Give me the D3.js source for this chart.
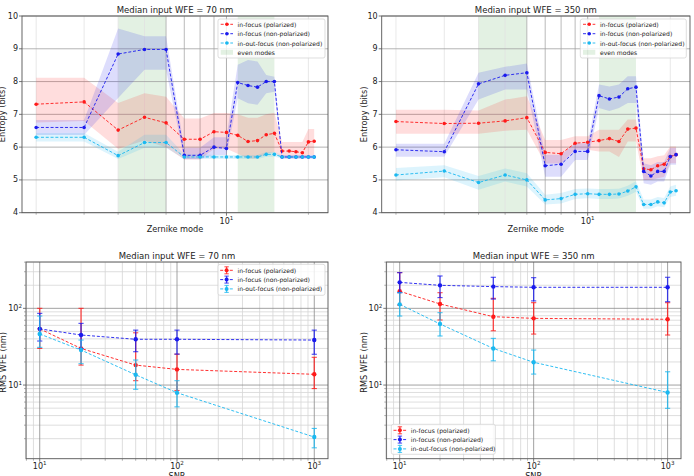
<!DOCTYPE html>
<html><head><meta charset="utf-8">
<script src="https://cdn.jsdelivr.net/npm/d3@7"></script>
<style>body{margin:0;background:#fff;} svg{display:block;font-family:"DejaVu Sans",sans-serif;}</style>
</head><body><svg id="c" width="694" height="476"></svg>
<script>
// ---------- data: entropy vs Zernike mode ----------
const modes = [2,3,4,5,6,7,8,9,10,11,12,13,14,15,16,17,18,19,20,21];
const evenSpans = [[4,6],[11,15]];
const seriesNames = ["in-focus (polarized)","in-focus (non-polarized)","in-out-focus (non-polarized)"];
const evenLabel = "even modes";

// 70 nm
const tlRed   = [7.31,7.38,6.52,6.91,6.74,6.24,6.24,6.47,6.45,6.36,6.17,6.20,6.38,6.42,5.88,5.88,5.86,5.83,6.16,6.18];
const tlRedLo = [6.75,6.80,5.95,6.20,6.00,5.62,5.62,5.95,5.95,5.80,5.65,5.65,5.80,5.85,5.66,5.66,5.66,5.66,5.75,5.75];
const tlRedHi = [8.12,8.12,7.35,7.64,7.54,6.87,6.87,7.04,7.04,7.00,6.90,6.90,7.00,7.05,6.16,6.16,6.16,6.16,6.55,6.55];
const tlBlue   = [6.60,6.60,8.84,8.98,8.98,5.75,5.75,6.00,5.96,7.97,7.88,7.83,8.00,8.00,5.70,5.70,5.70,5.70,5.70,5.70];
const tlBlueLo = [6.37,6.37,7.50,8.36,8.36,5.63,5.63,5.76,5.76,7.49,7.34,7.29,7.64,7.69,5.65,5.65,5.65,5.65,5.65,5.65];
const tlBlueHi = [6.83,6.83,9.62,9.38,9.38,5.98,5.98,6.30,6.30,8.51,8.66,8.61,8.20,8.15,5.75,5.75,5.75,5.75,5.75,5.75];
const tlCyan   = [6.30,6.30,5.74,6.14,6.14,5.70,5.70,5.70,5.70,5.70,5.70,5.70,5.78,5.78,5.70,5.70,5.70,5.70,5.70,5.70];
const tlCyanLo = [6.17,6.17,5.64,5.98,5.98,5.64,5.64,5.64,5.64,5.64,5.64,5.64,5.71,5.71,5.65,5.65,5.65,5.65,5.65,5.65];
const tlCyanHi = [6.43,6.43,5.86,6.38,6.38,5.78,5.78,5.76,5.76,5.76,5.76,5.76,5.85,5.85,5.75,5.75,5.75,5.75,5.75,5.75];

// 350 nm
const trRed   = [6.78,6.72,6.73,6.80,6.90,5.84,5.80,6.12,6.15,6.20,6.26,6.17,6.55,6.58,5.34,5.31,5.43,5.48,5.71,5.77];
const trRedLo = [6.41,6.41,6.41,6.50,6.53,5.50,5.50,5.92,5.92,5.87,5.87,5.70,6.17,6.17,5.00,5.00,5.05,5.10,5.51,5.51];
const trRedHi = [7.14,7.14,7.12,7.45,7.55,6.22,6.22,6.33,6.33,6.53,6.53,6.53,6.84,6.84,5.66,5.66,5.72,5.75,6.02,6.02];
const trBlue   = [5.92,5.86,7.93,8.19,8.27,5.43,5.48,5.87,5.87,7.57,7.47,7.53,7.78,7.83,5.26,5.12,5.26,5.26,5.71,5.77];
const trBlueLo = [5.71,5.71,7.45,7.76,7.76,5.10,5.10,5.61,5.61,7.19,7.10,7.19,7.35,7.35,4.90,4.85,4.95,4.95,5.46,5.46];
const trBlueHi = [6.10,6.10,8.27,8.45,8.55,5.77,5.77,6.12,6.12,7.91,7.85,7.91,8.16,8.16,5.51,5.45,5.55,5.55,5.97,5.97];
const trCyan   = [5.15,5.27,4.92,5.15,5.00,4.39,4.43,4.56,4.58,4.56,4.56,4.57,4.66,4.79,4.25,4.25,4.33,4.30,4.63,4.67];
const trCyanLo = [4.98,5.08,4.70,4.95,4.80,4.25,4.28,4.42,4.44,4.42,4.42,4.43,4.52,4.64,4.12,4.12,4.20,4.17,4.48,4.52];
const trCyanHi = [5.36,5.45,5.12,5.35,5.20,4.55,4.60,4.72,4.74,4.72,4.72,4.73,4.82,4.96,4.40,4.40,4.48,4.45,4.80,4.85];

// ---------- data: RMS WFE vs SNR ----------
const snr = [10,20,50,100,1000];
const blRed    = [54,30,18.2,16,13.8];
const blRedLo  = [30,18.2,11.4,8.5,9];
const blRedHi  = [100,100,48,25.3,23];
const blBlue   = [54,44.9,39.5,39.5,38.6];
const blBlueLo = [37.5,30,27.2,25.3,25.2];
const blBlueHi = [86,63.7,52,52,52];
const blCyan   = [46.3,28.6,13.6,7.94,2.1];
const blCyanLo = [31,19,8.8,5.2,1.52];
const blCyanHi = [79.4,38.6,21.2,11.4,2.72];

const brRed    = [167,114,77.8,74,72];
const brRedLo  = [110,70.5,51,46.2,44.9];
const brRedHi  = [292,160,135,118.5,118.5];
const brBlue   = [218,199.5,192,188,188];
const brBlueLo = [160,138,132,125,122];
const brBlueHi = [292,264,254,251,254];
const brCyan   = [112.7,62.5,30,19.8,8.0];
const brCyanLo = [79.4,43.6,20.7,13.9,4.97];
const brCyanHi = [160,87.8,40.6,28.6,14.9];

const entropyTicks = [4,5,6,7,8,9,10];
const colors = ["#ff1a1a","#1a1aee","#1ab8f0"];

const svg = d3.select("#c");

function supText(sel, base, exp, fs){
  sel.append("tspan").text(base);
  sel.append("tspan").attr("dy", -fs*0.42).attr("font-size", fs*0.7).text(exp);
}

function entropyPanel(p){
  const g = svg.append("g");
  const x = d3.scaleLog().domain([Math.pow(10,0.249), Math.pow(10,1.373)]).range([p.x0,p.x1]);
  const y = d3.scaleLinear().domain([4,10]).range([p.y1,p.y0]);
  evenSpans.forEach(s=>{
    g.append("rect").attr("x",x(s[0])).attr("y",p.y0).attr("width",x(s[1])-x(s[0])).attr("height",p.y1-p.y0)
      .attr("fill","green").attr("fill-opacity",0.11);
  });
  const minor = [2,3,4,5,6,7,8,9,20];
  minor.forEach(v=>{
    const dark = v>=6 && v<=9;
    g.append("line").attr("x1",x(v)).attr("x2",x(v)).attr("y1",p.y0).attr("y2",p.y1)
      .attr("stroke", dark? "#a8a8a8":"#e2e2e2").attr("stroke-width",0.8);
  });
  g.append("line").attr("x1",x(10)).attr("x2",x(10)).attr("y1",p.y0).attr("y2",p.y1).attr("stroke","#9a9a9a").attr("stroke-width",0.8);
  entropyTicks.forEach(v=>{
    g.append("line").attr("x1",p.x0).attr("x2",p.x1).attr("y1",y(v)).attr("y2",y(v)).attr("stroke","#a0a0a0").attr("stroke-width",0.8);
  });
  const sets = [[p.red,p.redLo,p.redHi],[p.blue,p.blueLo,p.blueHi],[p.cyan,p.cyanLo,p.cyanHi]];
  const area = d3.area().x((d,i)=>x(modes[i])).y0(d=>y(d[0])).y1(d=>y(d[1]));
  sets.forEach((s,k)=>{
    const pts = modes.map((m,i)=>[s[1][i], s[2][i]]);
    g.append("path").attr("d",area(pts)).attr("fill",colors[k]).attr("fill-opacity",0.15);
  });
  const line = d3.line().x((d,i)=>x(modes[i])).y(d=>y(d));
  sets.forEach((s,k)=>{
    g.append("path").attr("d",line(s[0])).attr("fill","none").attr("stroke",colors[k]).attr("stroke-width",0.9).attr("stroke-dasharray","3,1.8");
    g.selectAll(null).data(s[0]).enter().append("circle").attr("cx",(d,i)=>x(modes[i])).attr("cy",d=>y(d)).attr("r",1.8).attr("fill",colors[k]);
  });
  g.append("rect").attr("x",p.x0).attr("y",p.y0).attr("width",p.x1-p.x0).attr("height",p.y1-p.y0).attr("fill","none").attr("stroke","#555").attr("stroke-width",0.9);
  entropyTicks.forEach(v=>{
    g.append("line").attr("x1",p.x0-3).attr("x2",p.x0).attr("y1",y(v)).attr("y2",y(v)).attr("stroke","#555").attr("stroke-width",0.8);
    g.append("text").attr("x",p.x0-4).attr("y",y(v)).attr("text-anchor","end").attr("dominant-baseline","central").attr("font-size",8).attr("fill","#222").text(v);
  });
  g.append("line").attr("x1",x(10)).attr("x2",x(10)).attr("y1",p.y1).attr("y2",p.y1+3).attr("stroke","#555").attr("stroke-width",0.8);
  minor.forEach(v=>g.append("line").attr("x1",x(v)).attr("x2",x(v)).attr("y1",p.y1).attr("y2",p.y1+2).attr("stroke","#777").attr("stroke-width",0.6));
  const t = g.append("text").attr("x",x(10)).attr("y",p.y1+11).attr("text-anchor","middle").attr("font-size",8).attr("fill","#222");
  supText(t,"10","1",8);
  g.append("text").attr("x",(p.x0+p.x1)/2).attr("y",p.y0-3).attr("text-anchor","middle").attr("font-size",8.5).attr("fill","#222").text(p.title);
  g.append("text").attr("x",(p.x0+p.x1)/2).attr("y",232).attr("text-anchor","middle").attr("font-size",8.2).attr("fill","#222").text("Zernike mode");
  g.append("text").attr("transform",`translate(${p.ylabX},${(p.y0+p.y1)/2}) rotate(-90)`).attr("text-anchor","middle").attr("dominant-baseline","central").attr("font-size",8.2).attr("fill","#222").text("Entropy (bits)");
  const L = g.append("g");
  L.append("rect").attr("x",p.lx).attr("y",19).attr("width",p.lw).attr("height",39).attr("rx",2).attr("fill","#fff").attr("fill-opacity",0.8).attr("stroke","#d0d0d0").attr("stroke-width",0.7);
  const rows = [24.3,33.7,43,52.3];
  seriesNames.forEach((n,k)=>{
    L.append("line").attr("x1",p.lx+2.7).attr("x2",p.lx+15).attr("y1",rows[k]).attr("y2",rows[k]).attr("stroke",colors[k]).attr("stroke-width",0.9).attr("stroke-dasharray","3,1.8");
    L.append("circle").attr("cx",p.lx+8.9).attr("cy",rows[k]).attr("r",1.8).attr("fill",colors[k]);
    L.append("text").attr("x",p.lx+19.6).attr("y",rows[k]).attr("dominant-baseline","central").attr("font-size",6.1).attr("fill","#222").text(n);
  });
  L.append("rect").attr("x",p.lx+2.7).attr("y",rows[3]-2.5).attr("width",12.3).attr("height",5).attr("fill","green").attr("fill-opacity",0.11);
  L.append("text").attr("x",p.lx+19.6).attr("y",rows[3]).attr("dominant-baseline","central").attr("font-size",6.1).attr("fill","#222").text(evenLabel);
}

function wfePanel(p){
  const g = svg.append("g");
  const x = d3.scaleLog().domain([Math.pow(10,0.9), Math.pow(10,3.1)]).range([p.x0,p.x1]);
  const y = d3.scaleLog().domain([Math.pow(10,0.04), Math.pow(10,2.604)]).range([p.y1,p.y0]);
  const xMinor = [8,9,20,30,40,50,60,70,80,90,200,300,400,500,600,700,800,900];
  const xMajor = [10,100,1000];
  const yMinor = [2,3,4,5,6,7,8,9,20,30,40,50,60,70,80,90,200,300,400];
  const yMajor = [10,100];
  xMinor.forEach(v=>g.append("line").attr("x1",x(v)).attr("x2",x(v)).attr("y1",p.y0).attr("y2",p.y1).attr("stroke","#d6d6d6").attr("stroke-width",0.8));
  yMinor.forEach(v=>g.append("line").attr("x1",p.x0).attr("x2",p.x1).attr("y1",y(v)).attr("y2",y(v)).attr("stroke","#d6d6d6").attr("stroke-width",0.8));
  xMajor.forEach(v=>g.append("line").attr("x1",x(v)).attr("x2",x(v)).attr("y1",p.y0).attr("y2",p.y1).attr("stroke","#8a8a8a").attr("stroke-width",0.8));
  yMajor.forEach(v=>g.append("line").attr("x1",p.x0).attr("x2",p.x1).attr("y1",y(v)).attr("y2",y(v)).attr("stroke","#8a8a8a").attr("stroke-width",0.8));
  const sets = [[p.red,p.redLo,p.redHi],[p.blue,p.blueLo,p.blueHi],[p.cyan,p.cyanLo,p.cyanHi]];
  const line = d3.line().x((d,i)=>x(snr[i])).y(d=>y(d));
  sets.forEach((s,k)=>{
    g.append("path").attr("d",line(s[0])).attr("fill","none").attr("stroke",colors[k]).attr("stroke-width",0.9).attr("stroke-dasharray","3,1.8");
    snr.forEach((v,i)=>{
      const cx = x(v);
      g.append("line").attr("x1",cx).attr("x2",cx).attr("y1",y(s[1][i])).attr("y2",y(s[2][i])).attr("stroke",colors[k]).attr("stroke-width",1.3).attr("stroke-opacity",0.8);
      [s[1][i],s[2][i]].forEach(e=>g.append("line").attr("x1",cx-2.6).attr("x2",cx+2.6).attr("y1",y(e)).attr("y2",y(e)).attr("stroke",colors[k]).attr("stroke-width",1.1).attr("stroke-opacity",0.8));
      g.append("circle").attr("cx",cx).attr("cy",y(s[0][i])).attr("r",2.2).attr("fill",colors[k]);
    });
  });
  g.append("rect").attr("x",p.x0).attr("y",p.y0).attr("width",p.x1-p.x0).attr("height",p.y1-p.y0).attr("fill","none").attr("stroke","#555").attr("stroke-width",0.9);
  xMajor.forEach((v,i)=>{
    g.append("line").attr("x1",x(v)).attr("x2",x(v)).attr("y1",p.y1).attr("y2",p.y1+3).attr("stroke","#555").attr("stroke-width",0.8);
    const t = g.append("text").attr("x",x(v)).attr("y",p.y1+10).attr("text-anchor","middle").attr("font-size",8).attr("fill","#222");
    supText(t,"10",String(i+1),8);
  });
  xMinor.forEach(v=>g.append("line").attr("x1",x(v)).attr("x2",x(v)).attr("y1",p.y1).attr("y2",p.y1+2).attr("stroke","#777").attr("stroke-width",0.6));
  yMajor.forEach((v,i)=>{
    g.append("line").attr("x1",p.x0-3).attr("x2",p.x0).attr("y1",y(v)).attr("y2",y(v)).attr("stroke","#555").attr("stroke-width",0.8);
    const t = g.append("text").attr("x",p.x0-4).attr("y",y(v)+3).attr("text-anchor","end").attr("font-size",8).attr("fill","#222");
    supText(t,"10",String(i+1),8);
  });
  yMinor.forEach(v=>g.append("line").attr("x1",p.x0-2).attr("x2",p.x0).attr("y1",y(v)).attr("y2",y(v)).attr("stroke","#777").attr("stroke-width",0.6));
  g.append("text").attr("x",(p.x0+p.x1)/2).attr("y",p.y0-3).attr("text-anchor","middle").attr("font-size",8.5).attr("fill","#222").text(p.title);
  g.append("text").attr("x",(p.x0+p.x1)/2).attr("y",479).attr("text-anchor","middle").attr("font-size",8.2).attr("fill","#222").text("SNR");
  g.append("text").attr("transform",`translate(${p.ylabX},${(p.y0+p.y1)/2+2}) rotate(-90)`).attr("text-anchor","middle").attr("dominant-baseline","central").attr("font-size",8.2).attr("fill","#222").text("RMS WFE (nm)");
  const L = g.append("g");
  L.append("rect").attr("x",p.lx).attr("y",p.ly).attr("width",p.lw).attr("height",p.lh).attr("rx",2).attr("fill","#fff").attr("fill-opacity",0.8).attr("stroke","#d0d0d0").attr("stroke-width",0.7);
  seriesNames.forEach((n,k)=>{
    const ry = p.ly + 6 + k*9.3;
    L.append("line").attr("x1",p.lx+2.2).attr("x2",p.lx+15).attr("y1",ry).attr("y2",ry).attr("stroke",colors[k]).attr("stroke-width",0.9).attr("stroke-dasharray","3,1.8");
    L.append("line").attr("x1",p.lx+8.6).attr("x2",p.lx+8.6).attr("y1",ry-3.5).attr("y2",ry+3.5).attr("stroke",colors[k]).attr("stroke-width",1.3).attr("stroke-opacity",0.8);
    [ry-3.5,ry+3.5].forEach(e=>L.append("line").attr("x1",p.lx+6.4).attr("x2",p.lx+10.8).attr("y1",e).attr("y2",e).attr("stroke",colors[k]).attr("stroke-width",1).attr("stroke-opacity",0.8));
    L.append("circle").attr("cx",p.lx+8.6).attr("cy",ry).attr("r",2).attr("fill",colors[k]);
    L.append("text").attr("x",p.lx+19.5).attr("y",ry).attr("dominant-baseline","central").attr("font-size",6.1).attr("fill","#222").text(n);
  });
}

entropyPanel({x0:22,x1:328,y0:16,y1:212.7,title:"Median input WFE = 70 nm",ylabX:2,lx:218,lw:107,
  red:tlRed,redLo:tlRedLo,redHi:tlRedHi,blue:tlBlue,blueLo:tlBlueLo,blueHi:tlBlueHi,cyan:tlCyan,cyanLo:tlCyanLo,cyanHi:tlCyanHi});
entropyPanel({x0:381.7,x1:690,y0:16,y1:212.7,title:"Median input WFE = 350 nm",ylabX:364,lx:580.3,lw:106,
  red:trRed,redLo:trRedLo,redHi:trRedHi,blue:trBlue,blueLo:trBlueLo,blueHi:trBlueHi,cyan:trCyan,cyanLo:trCyanLo,cyanHi:trCyanHi});
wfePanel({x0:26,x1:328,y0:262,y1:458.7,title:"Median input WFE = 70 nm",ylabX:3,lx:218,ly:264.3,lw:107,lh:31,
  red:blRed,redLo:blRedLo,redHi:blRedHi,blue:blBlue,blueLo:blBlueLo,blueHi:blBlueHi,cyan:blCyan,cyanLo:blCyanLo,cyanHi:blCyanHi});
wfePanel({x0:386.3,x1:681,y0:262,y1:458.7,title:"Median input WFE = 350 nm",ylabX:363.5,lx:391.3,ly:424.3,lw:104,lh:30,
  red:brRed,redLo:brRedLo,redHi:brRedHi,blue:brBlue,blueLo:brBlueLo,blueHi:brBlueHi,cyan:brCyan,cyanLo:brCyanLo,cyanHi:brCyanHi});
</script>
</body></html>
